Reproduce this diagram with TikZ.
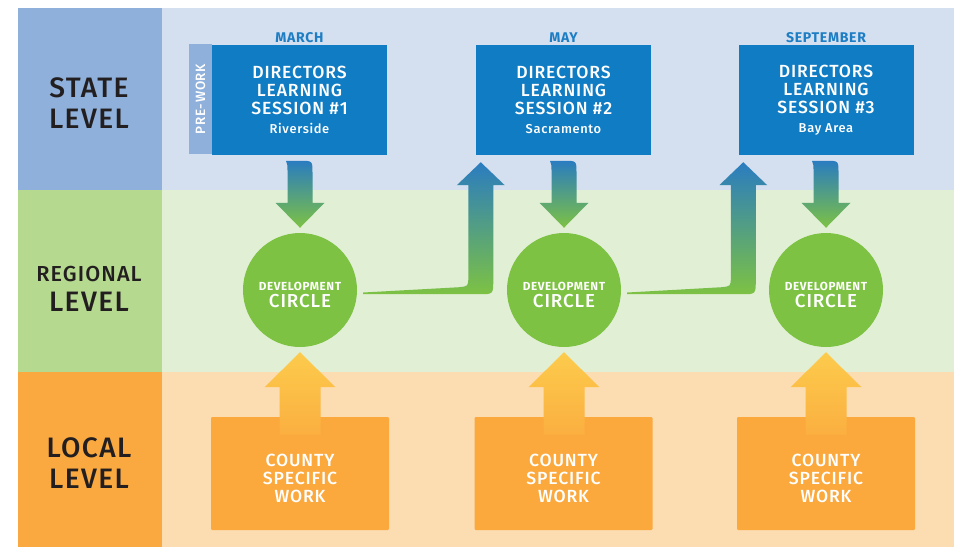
\documentclass[tikz,border=0pt]{standalone}
\usepackage{fontspec}
\setmainfont{Fira Sans}
\newfontfamily\spaced[LetterSpace=5.0]{Fira Sans}
\newfontfamily\spacedmed[LetterSpace=5.0]{Fira Sans Medium}
\usetikzlibrary{calc}

\definecolor{statedark}{HTML}{8FB0DA}
\definecolor{statelight}{HTML}{D4DFF0}
\definecolor{regiondark}{HTML}{B5D98F}
\definecolor{regionlight}{HTML}{E1EFD5}
\definecolor{localdark}{HTML}{F9A93F}
\definecolor{locallight}{HTML}{FCDCB1}
\definecolor{sessionblue}{HTML}{107CC3}
\definecolor{monthblue}{HTML}{1D7EC4}
\definecolor{arrowblue}{HTML}{2A7CC0}
\definecolor{circlegreen}{HTML}{7DC243}
\definecolor{countyorange}{HTML}{FBA93D}
\definecolor{arrowyellow}{HTML}{FCCB4C}
\definecolor{arrowamber}{HTML}{FBAF40}
\definecolor{labelgray}{HTML}{231F20}

\newcommand\px{0.03cm}

\begin{document}
\begin{tikzpicture}[x=0.03cm,y=-0.03cm,
    level/.style={text=labelgray,align=center,inner sep=0,font=\spacedmed\fontsize{24}{26}\selectfont},
    month/.style={text=monthblue,inner sep=0,font=\spaced\bfseries\fontsize{12}{13}\selectfont},
    session/.style={fill=sessionblue,text=white,align=center,inner sep=0,
        minimum width=175*\px,minimum height=110*\px,font=\spacedmed\fontsize{15}{15.4}\selectfont},
    prework/.style={fill=statedark,text=white,rotate=90,inner sep=0,
        minimum width=110*\px,minimum height=23*\px,font=\spacedmed\fontsize{11.5}{13}\selectfont},
    devcircle/.style={circle,fill=circlegreen,inner sep=0,minimum size=114*\px},
    circletext/.style={text=white,align=center,inner sep=0,font=\spacedmed\fontsize{16}{14.5}\selectfont},
    county/.style={fill=countyorange,inner sep=0,rounded corners=1pt,
        minimum width=178*\px,minimum height=113*\px},
    countytext/.style={text=white,align=center,inner sep=0,font=\spacedmed\fontsize{15}{15.4}\selectfont}]
    \useasboundingbox (0,0) rectangle (957,547);

    % bands
    \fill [statedark] (18,8) rectangle (162,190);
    \fill [regiondark] (18,190) rectangle (162,372);
    \fill [localdark] (18,372) rectangle (162,547);
    \fill [statelight] (162,8) rectangle (954,190);
    \fill [regionlight] (162,190) rectangle (954,372);
    \fill [locallight] (162,372) rectangle (954,547);

    \node [level] (state) at (89,103) {STATE\\LEVEL};
    \node [level] (regional) at (89,289) {{\fontsize{18.5}{20}\selectfont REGIONAL}\\LEVEL};
    \node [level] (local) at (89,463) {LOCAL\\LEVEL};

    % state level
    \node [session] (s1) at (299.5,100) {DIRECTORS\\LEARNING\\SESSION \#1\\[1pt]{\fontsize{11}{12}\selectfont Riverside}};
    \node [session] (s2) at (563.5,100) {DIRECTORS\\LEARNING\\SESSION \#2\\[1pt]{\fontsize{11}{12}\selectfont Sacramento}};
    \node [session] (s3) at (826,100) {DIRECTORS\\LEARNING\\SESSION \#3\\[1pt]{\fontsize{11}{12}\selectfont Bay Area}};
    \node [prework] (pre) at (200.5,99) {PRE-WORK};

    \node [month] (m1) at (299.5,37.5) {MARCH};
    \node [month] (m2) at (563.5,37.5) {MAY};
    \node [month] (m3) at (826,37.5) {SEPTEMBER};

    % local level
    \node [county] (w1) at (300,473.5) {};
    \node [county] (w2) at (563.5,473.5) {};
    \node [county] (w3) at (826,473.5) {};
    \foreach \w in {w1,w2,w3}
        \node [countytext] (\w t) at ($(\w)+(0,5)$) {COUNTY\\SPECIFIC\\WORK};

    % regional level
    \node [devcircle] (c1) at (300,290) {};
    \node [devcircle] (c2) at (564,290) {};
    \node [devcircle] (c3) at (826,290) {};
    \foreach \c in {c1,c2,c3}
        \node [circletext] (\c t) at ($(\c)+(0,5)$)
            {{\spaced\bfseries\fontsize{10}{12}\selectfont DEVELOPMENT}\\CIRCLE};

    % county work up to the circles
    \foreach \c in {c1,c2,c3} {
        \begin{scope}[shift={(\c.south)}]
            \shade [top color=arrowyellow,bottom color=arrowamber]
                (0,5) -- (35.5,40) -- (20.5,40) -- (20.5,88) -- (-20.5,88) -- (-20.5,40) -- (-35.5,40) -- cycle;
        \end{scope}
    }

    % sessions down to the circles
    \foreach \c in {c1,c2,c3} {
        \begin{scope}[shift={(\c.north)}]
            \shade [top color=arrowblue,bottom color=circlegreen]
                (-14,-72) -- (0,-72) .. controls (12.5,-72) .. (12.5,-60) -- (12.5,-30) -- (24.5,-30)
                -- (0,-5) -- (-24.5,-30) -- (-12.5,-30) -- (-12.5,-62) .. controls (-12.5,-68) .. (-14,-72) -- cycle;
        \end{scope}
    }

    % circles up to the next session
    \foreach \c/\s in {c1/s2,c2/s3} {
        \begin{scope}[shift={(\s.south west)}]
            \shade [top color=arrowblue,bottom color=circlegreen]
                ($(\c.east)+(6,2.5)$) -- (-17,132) .. controls (-7.5,131) .. (-7.5,122) -- (-7.5,30) -- (-19,30)
                -- (5,7) -- (29,30) -- (17.5,30) -- (17.5,125) .. controls (17.5,139) .. (3,139)
                -- ($(\c.east)+(6,4)$) -- cycle;
        \end{scope}
    }
\end{tikzpicture}
\end{document}
